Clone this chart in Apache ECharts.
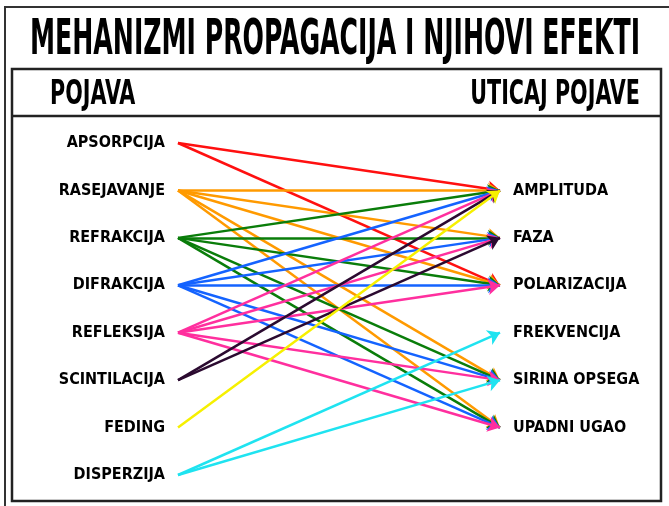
<!DOCTYPE html>
<html>
<head>
<meta charset="utf-8">
<script src="https://cdn.jsdelivr.net/npm/echarts@6/dist/echarts.min.js"></script>
<style>
  html, body { margin: 0; padding: 0; background: #fff; }
  #chart { width: 669px; height: 506px; }
</style>
</head>
<body>
<div id="chart"></div>
<script>
const FONT = "'Liberation Sans Narrow', 'DejaVu Sans Condensed', sans-serif"

// pojave (left) and their colours
const pojave = ['APSORPCIJA', 'RASEJAVANJE', 'REFRAKCIJA', 'DIFRAKCIJA', 'REFLEKSIJA', 'SCINTILACIJA', 'FEDING', 'DISPERZIJA']
const boje = ['#ff1010', '#ff9a00', '#0a7d0a', '#1463ff', '#ff2f9e', '#2b0a30', '#f6f000', '#1fe3f0']
// uticaj pojave (right), placed on rows 1..6 of the same axis
const uticaji = ['AMPLITUDA', 'FAZA', 'POLARIZACIJA', 'FREKVENCIJA', 'SIRINA OPSEGA', 'UPADNI UGAO']
const desniRedovi = ['', ...uticaji, '']
// veze: [pojava, uticaj]
const veze = [
  [0, 0], [0, 2],
  [1, 0], [1, 1], [1, 2], [1, 4], [1, 5],
  [2, 0], [2, 1], [2, 2], [2, 4], [2, 5],
  [3, 0], [3, 1], [3, 2], [3, 4], [3, 5],
  [4, 0], [4, 1], [4, 2], [4, 4], [4, 5],
  [5, 0], [5, 1],
  [6, 0],
  [7, 3], [7, 4]
]

const chart = echarts.init(document.getElementById('chart'))

const labelStyle = { color: '#000', fontFamily: FONT, fontWeight: 'bold', fontSize: 16 }

chart.setOption({
  animation: false,
  grid: { left: 178, right: 169, top: 119.3, bottom: 7.3 },
  xAxis: { type: 'value', min: 0, max: 1, show: false },
  yAxis: [
    {
      type: 'category', data: pojave, inverse: true, position: 'left',
      axisLine: { show: false }, axisTick: { show: false }, splitLine: { show: false },
      axisLabel: Object.assign({ margin: 13 }, labelStyle)
    },
    {
      type: 'category', data: desniRedovi, inverse: true, position: 'right',
      axisLine: { show: false }, axisTick: { show: false }, splitLine: { show: false },
      axisLabel: Object.assign({ margin: 13 }, labelStyle)
    }
  ],
  series: [{
    type: 'lines',
    coordinateSystem: 'cartesian2d',
    xAxisIndex: 0,
    yAxisIndex: 0,
    symbol: ['none', 'arrow'],
    symbolSize: 12,
    lineStyle: { width: 2.5, opacity: 1, curveness: 0 },
    data: veze.map(([a, b]) => ({
      coords: [[0, a], [1, b + 1]],
      lineStyle: { color: boje[a] }
    }))
  }],
  graphic: [
    // outer frame
    { type: 'polyline', shape: { points: [[5, 506], [5, 7], [669, 7]] }, style: { stroke: '#333', lineWidth: 2, fill: null } },
    // inner box and header separator
    { type: 'rect', shape: { x: 12, y: 69, width: 649, height: 432 }, style: { stroke: '#222', lineWidth: 2.5, fill: null } },
    { type: 'line', shape: { x1: 12, y1: 116, x2: 661, y2: 116 }, style: { stroke: '#222', lineWidth: 2.5 } },
    {
      type: 'text', x: 335, y: 41, scaleY: 1.75,
      style: { text: 'MEHANIZMI PROPAGACIJA I NJIHOVI EFEKTI', fontFamily: FONT, fontWeight: 'bold', fontSize: 28, fill: '#000', align: 'center', verticalAlign: 'middle' }
    },
    {
      type: 'text', x: 50, y: 95, scaleY: 1.5,
      style: { text: 'POJAVA', fontFamily: FONT, fontWeight: 'bold', fontSize: 23, fill: '#000', align: 'left', verticalAlign: 'middle' }
    },
    {
      type: 'text', x: 640, y: 95, scaleY: 1.5,
      style: { text: 'UTICAJ POJAVE', fontFamily: FONT, fontWeight: 'bold', fontSize: 23, fill: '#000', align: 'right', verticalAlign: 'middle' }
    }
  ]
})
</script>
</body>
</html>
